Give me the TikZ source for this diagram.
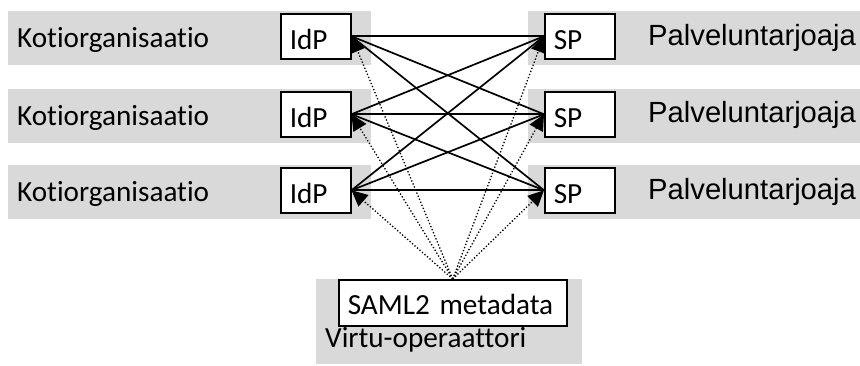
\documentclass[tikz,border=0pt]{standalone}
\usepackage{fontspec}
\setmainfont[Ligatures=NoCommon,WordSpace=0.7]{Carlito}
\newfontfamily\arialfont{Liberation Sans}
\usetikzlibrary{arrows.meta}
\definecolor{bandgray}{HTML}{D9D9D9}
\tikzset{
  x=1pt,y=-1pt,
  band/.style={fill=bandgray,draw=none,minimum height=54pt,inner sep=0pt,anchor=north west},
  agent/.style={fill=white,draw=black,line width=1.5pt,minimum width=70pt,minimum height=45pt,inner sep=0pt,inner xsep=9pt,anchor=north west,text width=52pt,text height=27pt,text depth=0pt,align=left,font=\fontsize{29.2}{32}\selectfont},
  lbl/.style={anchor=base west,inner sep=0pt,font=\fontsize{29.2}{32}\selectfont},
  palbl/.style={anchor=base west,inner sep=0pt,font=\arialfont\fontsize{29.2}{32}\selectfont},
  link/.style={line width=1.7pt,black},
  meta/.style={line width=1.3pt,black,dotted,-{Triangle[length=16pt,width=15pt,fill=black,sharp]}},
}
\begin{document}
\begin{tikzpicture}
\useasboundingbox (0,0) rectangle (860,365);
% bands
\node[band,minimum width=363pt] (bl1) at (8,11) {};
\node[band,minimum width=363pt] (bl2) at (8,89) {};
\node[band,minimum width=363pt] (bl3) at (8,165) {};
\node[band,minimum width=332pt] (br1) at (528,11) {};
\node[band,minimum width=332pt] (br2) at (528,89) {};
\node[band,minimum width=332pt] (br3) at (528,165) {};
\node[band,minimum width=266pt,minimum height=85pt] (bm) at (316,279) {};
% labels
\node[lbl] (k1) at (17,47) {Kotiorganisaatio};
\node[lbl] (k2) at (17,125) {Kotiorganisaatio};
\node[lbl] (k3) at (17,201) {Kotiorganisaatio};
\node[palbl] (p1) at (648,45) {Palveluntarjoaja};
\node[palbl] (p2) at (648,122) {Palveluntarjoaja};
\node[palbl] (p3) at (648,199) {Palveluntarjoaja};
\node[lbl] (vo) at (325,347) {Virtu-operaattori};
% boxes
\node[agent] (i1) at (280,13) {IdP};
\node[agent] (i2) at (280,91) {IdP};
\node[agent] (i3) at (280,167) {IdP};
\node[agent] (s1) at (544,13) {SP};
\node[agent] (s2) at (544,91) {SP};
\node[agent] (s3) at (544,167) {SP};
\node[agent,minimum width=227pt,minimum height=46pt,text width=210pt,text height=24pt] (saml) at (338,279) {SAML2 metadata};
% dotted metadata arrows
\draw[meta] (saml.north) -- (i1.east);
\draw[meta] (saml.north) -- (i2.east);
\draw[meta] (saml.north) -- (i3.east);
\draw[meta] (saml.north) -- (s1.west);
\draw[meta] (saml.north) -- (s2.west);
\draw[meta] (saml.north) -- (s3.west);
% solid links
\foreach \a in {i1,i2,i3}
  \foreach \b in {s1,s2,s3}
    \draw[link] (\a.east) -- (\b.west);
\end{tikzpicture}
\end{document}
